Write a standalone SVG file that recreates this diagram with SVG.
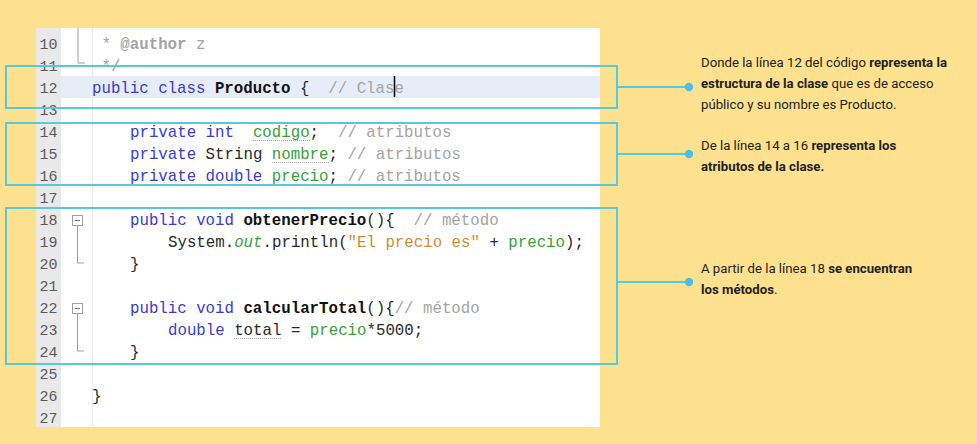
<svg xmlns="http://www.w3.org/2000/svg" width="977" height="444" viewBox="0 0 977 444">
<style>
.code{font-family:"Liberation Mono","DejaVu Sans Mono",monospace;font-size:15.75px;fill:#2a2a2a;white-space:pre}
.num{font-family:"Liberation Mono","DejaVu Sans Mono",monospace;font-size:15px;fill:#5a5a5a;text-anchor:end}
.kw{fill:#3a3ad2}
.fld{fill:#3aa03a}
.cm{fill:#a4a4a4}
.str{fill:#cf8c33}
.b{font-weight:bold}
.code .b{fill:#111}
text.code.cm .b{fill:#a4a4a4}
.it{font-style:italic}
.fold{stroke:#a0a0a0;stroke-width:1;fill:none}
.warn{stroke:#a8a8a8;stroke-width:1;stroke-dasharray:1 1}
.hl{fill:none;stroke:#58c8dc;stroke-width:2}
.conn{stroke:#58c8dc;stroke-width:2;fill:none}
.dot{fill:#4dbfe3}
.note{font-family:Roboto,"Liberation Sans",sans-serif;font-size:13.2px;fill:#222}
.note .b{font-weight:bold}
</style>
<rect x="0" y="0" width="977" height="444" fill="#fee18f"/>
<g id="code-panel">
<rect x="36" y="28" width="564" height="399" fill="#ffffff"/>
<rect x="36" y="28" width="25" height="399" fill="#e9e9e9"/>
<rect x="61" y="76" width="539" height="22" fill="#e7edf8"/>
<line x1="92.5" y1="28" x2="92.5" y2="427" stroke="#ececec" stroke-width="1"/>
<path class="fold" d="M78 28 V63 H85"/>
<rect x="72.5" y="215.5" width="10" height="10" fill="#fff" stroke="#a0a0a0"/>
<line x1="75" y1="220.5" x2="80" y2="220.5" stroke="#777"/>
<path class="fold" d="M77.5 225.5 V263 H84"/>
<rect x="72.5" y="303.5" width="10" height="10" fill="#fff" stroke="#a0a0a0"/>
<line x1="75" y1="308.5" x2="80" y2="308.5" stroke="#777"/>
<path class="fold" d="M77.5 313.5 V351 H84"/>
<g>
<text class="num" x="57.5" y="49.3">10</text>
<text class="num" x="57.5" y="71.3">11</text>
<text class="num" x="57.5" y="93.3">12</text>
<text class="num" x="57.5" y="115.3">13</text>
<text class="num" x="57.5" y="137.3">14</text>
<text class="num" x="57.5" y="159.3">15</text>
<text class="num" x="57.5" y="181.3">16</text>
<text class="num" x="57.5" y="203.3">17</text>
<text class="num" x="57.5" y="225.3">18</text>
<text class="num" x="57.5" y="247.3">19</text>
<text class="num" x="57.5" y="269.3">20</text>
<text class="num" x="57.5" y="291.3">21</text>
<text class="num" x="57.5" y="313.3">22</text>
<text class="num" x="57.5" y="335.3">23</text>
<text class="num" x="57.5" y="357.3">24</text>
<text class="num" x="57.5" y="379.3">25</text>
<text class="num" x="57.5" y="401.3">26</text>
<text class="num" x="57.5" y="423.3">27</text>
</g>
<g>
<text class="code cm" x="92" y="49.3" xml:space="preserve"> * <tspan class="b">@author</tspan> z</text>
<text class="code cm" x="92" y="71.3" xml:space="preserve"> */</text>
<text class="code" x="92" y="93.3" xml:space="preserve"><tspan class="kw">public class</tspan> <tspan class="b">Producto</tspan> {  <tspan class="cm">// Clase</tspan></text>
<text class="code" x="130" y="137.3" xml:space="preserve"><tspan class="kw">private int</tspan>  <tspan class="fld">codigo</tspan>;  <tspan class="cm">// atributos</tspan></text>
<text class="code" x="130" y="159.3" xml:space="preserve"><tspan class="kw">private</tspan> String <tspan class="fld">nombre</tspan>; <tspan class="cm">// atributos</tspan></text>
<text class="code" x="130" y="181.3" xml:space="preserve"><tspan class="kw">private double</tspan> <tspan class="fld">precio</tspan>; <tspan class="cm">// atributos</tspan></text>
<text class="code" x="130" y="225.3" xml:space="preserve"><tspan class="kw">public void</tspan> <tspan class="b">obtenerPrecio</tspan>(){  <tspan class="cm">// método</tspan></text>
<text class="code" x="168" y="247.3" xml:space="preserve">System.<tspan class="fld it">out</tspan>.println(<tspan class="str">"El precio es"</tspan> + <tspan class="fld">precio</tspan>);</text>
<text class="code" x="130" y="269.3" xml:space="preserve">}</text>
<text class="code" x="130" y="313.3" xml:space="preserve"><tspan class="kw">public void</tspan> <tspan class="b">calcularTotal</tspan>(){<tspan class="cm">// método</tspan></text>
<text class="code" x="168" y="335.3" xml:space="preserve"><tspan class="kw">double</tspan> total = <tspan class="fld">precio</tspan>*5000;</text>
<text class="code" x="130" y="357.3" xml:space="preserve">}</text>
<text class="code" x="92" y="401.3" xml:space="preserve">}</text>
</g>
<line class="warn" x1="253" y1="140.5" x2="310" y2="140.5"/>
<line class="warn" x1="272" y1="162.5" x2="329" y2="162.5"/>
<line class="warn" x1="234" y1="338.5" x2="281" y2="338.5"/>
<line x1="394.5" y1="76" x2="394.5" y2="97" stroke="#000" stroke-width="1.5"/>
</g>
<g id="box-clase"><rect class="hl" x="6" y="66" width="611" height="42"/></g>
<g id="box-atributos"><rect class="hl" x="6" y="123" width="611" height="62"/></g>
<g id="box-metodos"><rect class="hl" x="6" y="208" width="611" height="156"/></g>
<g id="connectors">
<line class="conn" x1="617" y1="87" x2="689" y2="87"/>
<circle class="dot" cx="689" cy="87" r="4.2"/>
<line class="conn" x1="617" y1="154" x2="689" y2="154"/>
<circle class="dot" cx="689" cy="154" r="4.2"/>
<line class="conn" x1="617" y1="282" x2="689" y2="282"/>
<circle class="dot" cx="689" cy="282" r="4.2"/>
</g>
<g id="note-clase">
<text class="note" x="701" y="67">Donde la línea 12 del código <tspan class="b">representa la</tspan></text>
<text class="note" x="701" y="88"><tspan class="b">estructura de la clase</tspan> que es de acceso</text>
<text class="note" x="701" y="109">público y su nombre es Producto.</text>
</g>
<g id="note-atributos">
<text class="note" x="701" y="150">De la línea 14 a 16 <tspan class="b">representa los</tspan></text>
<text class="note" x="701" y="171"><tspan class="b">atributos de la clase.</tspan></text>
</g>
<g id="note-metodos">
<text class="note" x="701" y="272.5">A partir de la línea 18 <tspan class="b">se encuentran</tspan></text>
<text class="note" x="701" y="293.5"><tspan class="b">los métodos</tspan>.</text>
</g>
</svg>
